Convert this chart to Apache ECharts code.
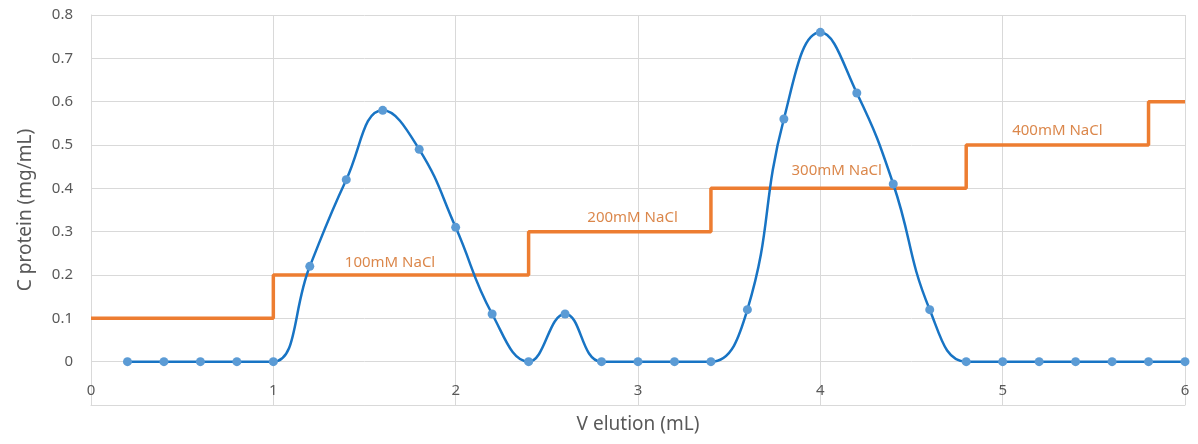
<!DOCTYPE html>
<html>
<head>
<meta charset="utf-8">
<script src="https://cdn.jsdelivr.net/npm/echarts@6/dist/echarts.min.js"></script>
<style>html,body{margin:0;padding:0;background:#fff}#c{width:1198px;height:444px}</style>
</head>
<body>
<div id="c"></div>
<script>
// Protein elution profile
const vElution = [0.2,0.4,0.6,0.8,1.0,1.2,1.4,1.6,1.8,2.0,2.2,2.4,2.6,2.8,3.0,3.2,3.4,3.6,3.8,4.0,4.2,4.4,4.6,4.8,5.0,5.2,5.4,5.6,5.8,6.0];
const cProtein = [0,0,0,0,0,0.22,0.42,0.58,0.49,0.31,0.11,0,0.11,0,0,0,0,0.12,0.56,0.76,0.62,0.41,0.12,0,0,0,0,0,0,0];
// NaCl step gradient (x where step starts, level)
const stepX = [0,1,2.4,3.4,4.8,5.8,6];
const stepY = [0.1,0.2,0.3,0.4,0.5,0.6,0.6];
// Step labels
const stepLabels = ['100mM NaCl','200mM NaCl','300mM NaCl','400mM NaCl'];
const stepLabelX = [1.64,2.97,4.09,5.30];
const stepLabelY = [0.229,0.333,0.441,0.533];
const xTicks = [0,1,2,3,4,5,6];

const FONT = 'Noto Sans';
const chart = echarts.init(document.getElementById('c'), null, {renderer:'canvas'});
chart.setOption({
  animation:false,
  textStyle:{fontFamily:FONT},
  grid:{left:91,right:13,top:15,bottom:39,containLabel:false},
  xAxis:{
    type:'value',min:xTicks[0],max:xTicks[xTicks.length-1],interval:1,
    name:'V elution (mL)',nameLocation:'middle',nameGap:10,
    nameTextStyle:{color:'#595959',fontSize:19,fontFamily:FONT,verticalAlign:'top'},
    axisLine:{show:true,onZero:false,lineStyle:{color:'#d9d9d9',width:1}},
    axisTick:{show:false},
    axisLabel:{inside:true,margin:7,color:'#595959',fontSize:15,fontFamily:FONT},
    splitLine:{show:true,lineStyle:{color:'#d9d9d9',width:1}}
  },
  yAxis:{
    type:'value',min:-0.1,max:0.8,interval:0.1,
    name:'C protein (mg/mL)',nameLocation:'middle',nameGap:56,nameRotate:90,
    nameTextStyle:{color:'#595959',fontSize:19,fontFamily:FONT},
    axisLine:{show:true,lineStyle:{color:'#d9d9d9',width:1}},
    axisTick:{show:false},
    axisLabel:{margin:18,color:'#595959',fontSize:15,fontFamily:FONT,
      formatter:function(v){const r=Math.round(v*10)/10; return r<0?'':String(r);}},
    splitLine:{show:true,lineStyle:{color:'#d9d9d9',width:1}}
  },
  series:[
    {
      type:'line',step:'end',
      data:stepX.map((x,i)=>[x,stepY[i]]),
      showSymbol:false,symbol:'none',
      lineStyle:{color:'#ED7D31',width:3.5},
      z:2
    },
    {
      type:'line',smooth:0.45,
      data:vElution.map((x,i)=>[x,cProtein[i]]),
      symbol:'circle',symbolSize:9,
      itemStyle:{color:'#5B9BD5'},
      lineStyle:{color:'#1874C4',width:2.5},
      z:3
    },
    {
      type:'scatter',
      data:stepLabelX.map((x,i)=>({value:[x,stepLabelY[i]],name:stepLabels[i]})),
      symbolSize:0,silent:true,
      label:{show:true,position:'inside',formatter:'{b}',color:'#D2691E',fontSize:15,fontFamily:FONT},
      z:4
    }
  ]
});
</script>
</body>
</html>
